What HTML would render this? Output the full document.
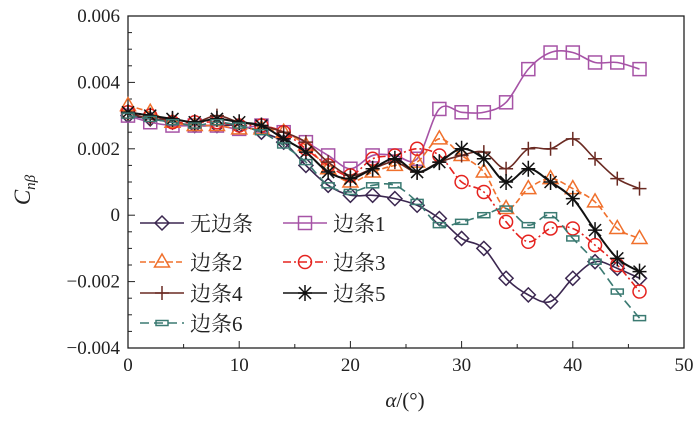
<!DOCTYPE html>
<html><head><meta charset="utf-8"><style>
body{margin:0;background:#fff}
svg text{font-family:"Liberation Serif","Noto Serif CJK SC",serif}
</style></head><body>
<svg id="c" width="700" height="418" xmlns="http://www.w3.org/2000/svg"></svg>
<script>
const alphas=[0,2,4,6,8,10,12,14,16,18,20,22,24,26,28,30,32,34,36,38,40,42,44,46];
const sNone=[0.0030,0.0029,0.0028,0.0027,0.0027,0.0027,0.0025,0.0022,0.0015,0.0009,0.0006,0.0006,0.0005,0.0003,-0.0001,-0.0007,-0.0010,-0.0019,-0.0024,-0.0026,-0.0019,-0.0014,-0.0016,-0.0019];
const s1=[0.0030,0.0028,0.0027,0.0027,0.0027,0.0026,0.0027,0.0025,0.0022,0.0018,0.0014,0.0018,0.0018,0.0017,0.0032,0.0031,0.0031,0.0034,0.0044,0.0049,0.0049,0.0046,0.0046,0.0044];
const s2=[0.0033,0.0031,0.0028,0.0027,0.0027,0.0026,0.0026,0.0025,0.0021,0.0014,0.0010,0.0013,0.0015,0.0016,0.0023,0.0018,0.0013,0.0002,0.0008,0.0011,0.0008,0.0004,-0.0004,-0.0007];
const s3=[0.0031,0.0030,0.0028,0.0028,0.0028,0.0027,0.0027,0.0025,0.0020,0.0015,0.0012,0.0017,0.0018,0.0020,0.0018,0.0010,0.0007,-0.0002,-0.0008,-0.0004,-0.0004,-0.0009,-0.0015,-0.0023];
const s4=[0.0031,0.0029,0.0029,0.0028,0.0030,0.0028,0.0027,0.0025,0.0022,0.0016,0.0012,0.0014,0.0016,0.0013,0.0016,0.0018,0.0019,0.0014,0.0020,0.0020,0.0023,0.0017,0.0011,0.0008];
const s5=[0.0031,0.0030,0.0029,0.0028,0.0029,0.0028,0.0027,0.0023,0.0019,0.0013,0.0011,0.0014,0.0017,0.0013,0.0016,0.0020,0.0017,0.0010,0.0014,0.0010,0.0005,-0.00045,-0.0013,-0.0017];
const s6=[0.0030,0.0029,0.0028,0.0027,0.0028,0.0027,0.0025,0.0021,0.0016,0.0009,0.0007,0.0009,0.0009,0.0004,-0.0003,-0.0002,0.0000,0.0002,-0.0003,0.0000,-0.0007,-0.0014,-0.0023,-0.0031];
const xTicks=[0,10,20,30,40,50];
const yTicks=[-0.004,-0.002,0,0.002,0.004,0.006];
const yTickLabels=["−0.004","−0.002","0","0.002","0.004","0.006"];
const seriesNames=["无边条","边条1","边条2","边条3","边条4","边条5","边条6"];

const L=128,R=684,T=16,B=348;
const X=v=>L+(v-0)/50*(R-L);
const Y=v=>B-(v+0.004)/0.010*(B-T);
const svg=document.getElementById('c');
const NS='http://www.w3.org/2000/svg';
function mk(tag,attrs,parent){const e=document.createElementNS(NS,tag);for(const k in attrs)e.setAttribute(k,attrs[k]);(parent||svg).appendChild(e);return e;}

const fr=mk('rect',{x:L,y:T,width:R-L,height:B-T,fill:'none',stroke:'#222','stroke-width':1.3});


for(let v=0;v<=50;v+=5){const big=v%10==0;const t=mk('line',{x1:X(v),x2:X(v),y1:B,y2:B-(big?7:4),stroke:'#222'});

}
for(let i=0;i<=20;i++){const v=-0.004+i*0.0005;const big=i%4==0;const t=mk('line',{x1:L,x2:L+(big?7:4),y1:Y(v),y2:Y(v),stroke:'#222'});

}
xTicks.forEach(v=>{const t=mk('text',{x:X(v),y:B+23,'text-anchor':'middle','font-size':19,fill:'#222'});t.textContent=v;

});
yTicks.forEach((v,i)=>{const t=mk('text',{x:L-8,y:Y(v)+6,'text-anchor':'end','font-size':19,fill:'#222'});t.textContent=yTickLabels[i];

});
const xt=mk('text',{x:405,y:407,'text-anchor':'middle','font-size':21,fill:'#222'});
xt.innerHTML='<tspan font-style="italic">α</tspan>/(°)';


const yt=mk('text',{transform:'translate(30,190) rotate(-90)','text-anchor':'middle','font-size':23,fill:'#222'});
yt.innerHTML='<tspan font-style="italic">C</tspan><tspan font-style="italic" font-size="15" dy="5">nβ</tspan>';



function smooth(pts){let d=`M${pts[0][0]},${pts[0][1]}`;for(let i=0;i<pts.length-1;i++){const p0=pts[i-1]||pts[i],p1=pts[i],p2=pts[i+1],p3=pts[i+2]||p2;
const c1=[p1[0]+(p2[0]-p0[0])/6,p1[1]+(p2[1]-p0[1])/6],c2=[p2[0]-(p3[0]-p1[0])/6,p2[1]-(p3[1]-p1[1])/6];
d+=`C${c1[0]},${c1[1]} ${c2[0]},${c2[1]} ${p2[0]},${p2[1]}`;}return d;}
function marker(g,type,x,y,col){
 const a={fill:'none',stroke:col,'stroke-width':1.5};
 if(type=='diamond')return mk('polygon',Object.assign({points:`${x},${y-7} ${x+7},${y} ${x},${y+7} ${x-7},${y}`},a),g);
 if(type=='square')return mk('rect',Object.assign({x:x-6.5,y:y-6.5,width:13,height:13},a),g);
 if(type=='tri')return mk('polygon',Object.assign({points:`${x},${y-8} ${x+7.5},${y+5} ${x-7.5},${y+5}`},a),g);
 if(type=='circle')return mk('circle',Object.assign({cx:x,cy:y,r:6.5},a),g);
 if(type=='plus')return mk('path',Object.assign({d:`M${x-7},${y}H${x+7}M${x},${y-7}V${y+7}`},a),g);
 if(type=='star')return mk('path',Object.assign({d:`M${x-7},${y}H${x+7}M${x},${y-8}V${y+8}M${x-6},${y-6}L${x+6},${y+6}M${x-6},${y+6}L${x+6},${y-6}`},a),g);
 if(type=='dash')return mk('rect',Object.assign({x:x-6,y:y-2.5,width:12,height:5},a),g);
}
const styles=[
 {data:sNone,col:'#3b2750',m:'diamond',dash:'',name:'series-no-strip'},
 {data:s1,col:'#a653a6',m:'square',dash:'',name:'series-strip-1'},
 {data:s2,col:'#f0702c',m:'tri',dash:'6,3',name:'series-strip-2'},
 {data:s3,col:'#e5231f',m:'circle',dash:'8,3,2,3',name:'series-strip-3'},
 {data:s4,col:'#6a2a22',m:'plus',dash:'',name:'series-strip-4'},
 {data:s5,col:'#111',m:'star',dash:'',name:'series-strip-5'},
 {data:s6,col:'#3b7a72',m:'dash',dash:'9,5',name:'series-strip-6'}];
styles.forEach(s=>{
 const g=mk('g',{});
 
 
 const pts=alphas.map((a,i)=>[X(a),Y(s.data[i])]);
 const p=mk('path',{d:smooth(pts),fill:'none',stroke:s.col,'stroke-width':s.m=='star'?2:1.6,'stroke-dasharray':s.dash},g);
 
 
 pts.forEach(q=>{const m=marker(g,s.m,q[0],q[1],s.col);
 
 });
});
const lg=mk('g',{});


const rows=[223,262,293,323];
styles.forEach((s,i)=>{
 const rIdx=Math.floor(i/2),cx=i%2;
 const x0=cx==0?140:283,y=rows[rIdx];
 const e=mk('g',{},lg);
 
 
 mk('line',{x1:x0,x2:x0+44,y1:y,y2:y,stroke:s.col,'stroke-width':1.6,'stroke-dasharray':s.dash},e);
 marker(e,s.m,x0+22,y,s.col);
 const t=mk('text',{x:x0+50,y:y+8,'font-size':21,fill:'#222'},e);t.textContent=seriesNames[i];
});
</script>
</body></html>
